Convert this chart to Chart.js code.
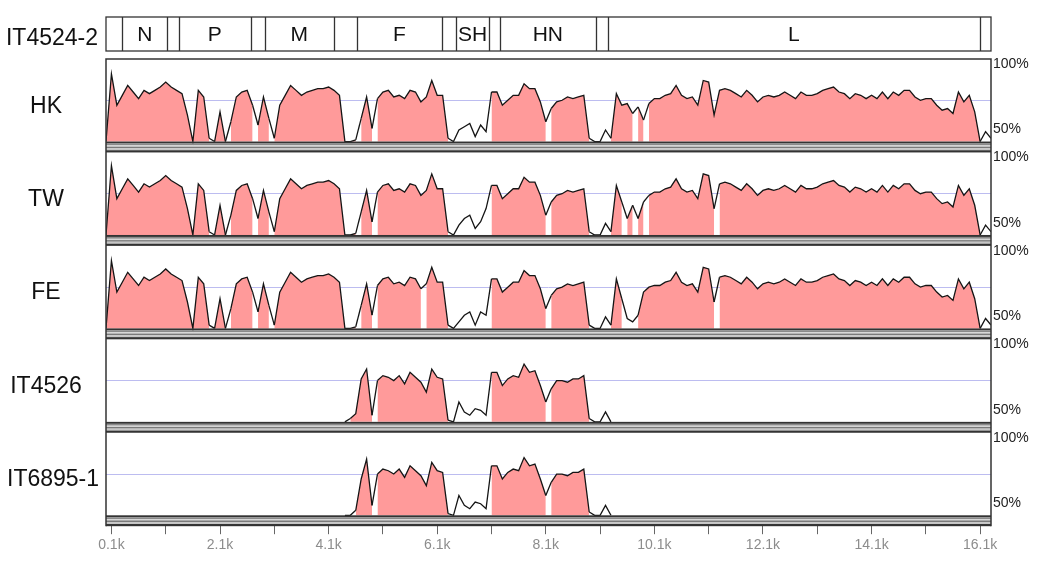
<!DOCTYPE html>
<html>
<head>
<meta charset="utf-8">
<script src="https://cdn.jsdelivr.net/npm/chart.js@4.4.1/dist/chart.umd.min.js"></script>
<style>
  body { margin: 0; background: #fff; }
  canvas { display: block; }
</style>
</head>
<body>
<canvas id="vistaChart" width="1050" height="569"></canvas>
<script>
// reference genome and compared strains
const referenceName = 'IT4524-2';
const trackNames = ['HK', 'TW', 'FE', 'IT4526', 'IT6895-1'];

// genes on the reference (bp)
const geneNames = ['N', 'P', 'M', 'F', 'SH', 'HN', 'L'];
const geneStarts = [300, 1340, 2925, 4630, 6445, 7255, 9240];
const geneEnds = [1130, 2665, 4195, 6180, 7055, 9020, 16100];

// x axis ticks
const tickPositions = [100, 1100, 2100, 3100, 4100, 5100, 6100, 7100, 8100, 9100, 10100, 11100, 12100, 13100, 14100, 15100, 16100];
const tickLabels = ['0.1k', '', '2.1k', '', '4.1k', '', '6.1k', '', '8.1k', '', '10.1k', '', '12.1k', '', '14.1k', '', '16.1k'];

// % identity, one value per 100 bp window
const windowStep = 100;
const hkStart = 0;
const hkValues = [
  50, 91, 72, 78, 84, 80, 76, 81, 79, 81, 83, 86, 83, 81, 79, 66, 50, 81, 77, 52,
  50, 68, 50, 62, 77, 80, 81, 72, 60, 77, 64, 52, 72, 78, 84, 81, 78, 80, 81, 82,
  82, 83, 81, 78, 50, 50, 51, 64, 77, 58, 76, 80, 81, 77, 78, 76, 81, 80, 74, 77,
  87, 78, 78, 52, 50, 57, 59, 61, 53, 60, 56, 80, 80, 72, 75, 78, 78, 85, 82, 82,
  74, 62, 70, 74, 75, 77, 76, 77, 78, 52, 50, 50, 57, 52, 79, 72, 73, 67, 71, 63,
  73, 76, 76, 78, 79, 84, 78, 76, 77, 72, 87, 86, 66, 81, 82, 81, 79, 77, 81, 78,
  74, 77, 78, 77, 78, 80, 78, 76, 80, 78, 78, 79, 81, 82, 83, 80, 79, 76, 79, 78,
  76, 78, 76, 80, 76, 80, 78, 81, 81, 77, 75, 76, 76, 72, 69, 70, 67, 80, 74, 78,
  68, 50, 56, 52
];
const twStart = 0;
const twValues = [
  50, 92, 72, 78, 84, 80, 76, 81, 79, 81, 83, 86, 83, 81, 79, 66, 50, 81, 77, 52,
  50, 68, 50, 62, 77, 80, 81, 72, 60, 77, 64, 52, 72, 78, 84, 81, 78, 80, 81, 82,
  82, 83, 81, 78, 50, 50, 51, 64, 77, 58, 76, 80, 81, 77, 78, 76, 81, 80, 74, 77,
  87, 78, 78, 52, 50, 56, 60, 62, 54, 58, 66, 80, 80, 72, 75, 78, 78, 85, 82, 82,
  74, 62, 70, 74, 75, 77, 76, 77, 78, 52, 50, 50, 57, 52, 80, 70, 60, 68, 60, 70,
  74, 76, 76, 78, 79, 84, 78, 76, 77, 72, 87, 86, 66, 81, 82, 81, 79, 77, 81, 78,
  74, 77, 78, 77, 78, 80, 78, 76, 80, 78, 78, 79, 81, 82, 83, 80, 79, 76, 79, 78,
  76, 78, 76, 80, 76, 80, 78, 81, 81, 77, 75, 76, 76, 72, 69, 70, 67, 80, 74, 78,
  68, 50, 56, 52
];
const feStart = 0;
const feValues = [
  50, 91, 72, 78, 84, 80, 76, 81, 79, 81, 83, 86, 83, 81, 79, 66, 50, 81, 77, 52,
  50, 68, 50, 62, 77, 80, 81, 72, 60, 77, 64, 52, 72, 78, 84, 81, 78, 80, 81, 82,
  82, 83, 81, 78, 50, 50, 51, 64, 77, 58, 76, 80, 81, 77, 78, 76, 81, 80, 74, 77,
  87, 78, 78, 52, 50, 54, 58, 60, 52, 60, 58, 80, 80, 72, 75, 78, 78, 85, 82, 82,
  74, 62, 70, 74, 75, 77, 76, 77, 78, 52, 50, 50, 57, 52, 80, 68, 56, 54, 58, 72,
  75, 76, 76, 78, 79, 84, 78, 76, 77, 72, 87, 86, 66, 81, 82, 81, 79, 77, 81, 78,
  74, 77, 78, 77, 78, 80, 78, 76, 80, 78, 78, 79, 81, 82, 83, 80, 79, 76, 79, 78,
  76, 78, 76, 80, 76, 80, 78, 81, 81, 77, 75, 76, 76, 72, 69, 70, 67, 80, 74, 78,
  68, 50, 56, 52
];
const it4526Start = 4400;
const it4526Values = [
  50, 52, 55, 76, 82, 54, 75, 78, 77, 75, 78, 73, 80, 77, 74, 68, 82, 77, 76, 51,
  50, 62, 56, 54, 58, 57, 54, 80, 80, 72, 76, 78, 77, 85, 80, 81, 72, 62, 70, 75,
  75, 74, 76, 76, 78, 52, 50, 50, 56, 50
];
const it6895Start = 4400;
const it6895Values = [
  50, 50, 53, 72, 84, 56, 75, 78, 77, 75, 78, 73, 80, 77, 74, 68, 82, 77, 76, 51,
  50, 62, 56, 54, 58, 57, 54, 80, 80, 72, 76, 78, 77, 85, 80, 81, 72, 62, 70, 75,
  75, 74, 76, 76, 78, 52, 50, 50, 56, 50
];

// windows left unshaded (not conserved), bp
const hkGaps = [[1900, 2000], [2200, 2300], [2700, 2800], [3000, 3100], [4600, 4700], [4900, 5000], [6300, 7100], [8100, 8200], [8900, 9300], [9700, 9800], [9900, 10000], [16100, 16300]];
const twGaps = [[1900, 2000], [2200, 2300], [2700, 2800], [3000, 3100], [4600, 4700], [4900, 5000], [6300, 7100], [8100, 8200], [8900, 9300], [9500, 9600], [9700, 9800], [9900, 10000], [11200, 11300], [16100, 16300]];
const feGaps = [[1900, 2000], [2200, 2300], [2700, 2800], [3000, 3100], [4600, 4700], [4900, 5000], [5800, 5900], [6300, 7100], [8100, 8200], [8900, 9300], [9500, 9800], [11200, 11300], [16100, 16300]];
const it4526Gaps = [[4400, 4500], [4900, 5000], [6300, 7100], [8100, 8200], [8900, 9400]];
const it6895Gaps = [[4400, 4600], [4900, 5000], [6300, 7100], [8100, 8200], [8900, 9400]];

const trackStarts = [hkStart, twStart, feStart, it4526Start, it6895Start];
const trackValues = [hkValues, twValues, feValues, it4526Values, it6895Values];
const trackGaps = [hkGaps, twGaps, feGaps, it4526Gaps, it6895Gaps];

const fontFamily = "'Liberation Sans', Arial, sans-serif";
const pink = '#ff9a9a';

function fillColour(gaps) {
  return ctx => {
    const mid = (ctx.p0.parsed.x + ctx.p1.parsed.x) / 2;
    return gaps.some(g => mid >= g[0] && mid < g[1]) ? 'rgba(255,255,255,0)' : pink;
  };
}

const datasets = trackNames.map((name, i) => ({
  label: name,
  yAxisID: 'y' + i,
  data: trackValues[i].map((v, j) => ({ x: trackStarts[i] + j * windowStep, y: v })),
  borderColor: '#151515',
  borderWidth: 1.3,
  backgroundColor: pink,
  fill: { value: 50 },
  pointRadius: 0,
  tension: 0,
  segment: { backgroundColor: fillColour(trackGaps[i]) }
}));

const scales = {
  x: {
    type: 'linear',
    position: 'bottom',
    min: 0,
    max: 16300,
    afterBuildTicks: s => { s.ticks = tickPositions.map(v => ({ value: v })); },
    ticks: {
      autoSkip: false,
      maxRotation: 0,
      padding: 3,
      color: '#8c8c8c',
      font: { family: fontFamily, size: 14 },
      callback: (v, i) => tickLabels[i]
    },
    grid: { drawOnChartArea: false, tickLength: 8, color: '#666' },
    border: { display: false }
  }
};
trackNames.forEach((name, i) => {
  scales['y' + i] = {
    type: 'linear',
    position: 'right',
    stack: 'tracks',
    stackWeight: 1,
    min: 43.4,
    max: 100,
    afterBuildTicks: s => { s.ticks = [{ value: 75 }]; },
    ticks: { display: false },
    grid: { color: '#bcbcf0', drawTicks: false },
    border: { display: false }
  };
});

const bandRows = [[0, 0.18, '#333333'], [0.18, 0.35, '#8a8a8a'], [0.35, 0.47, '#d6d6d6'], [0.47, 0.62, '#7a7a7a'], [0.62, 0.8, '#c6c6c6'], [0.8, 1, '#333333']];

const vistaDecor = {
  id: 'vistaDecor',
  afterDatasetsDraw(chart) {
    const { ctx, chartArea, scales } = chart;
    const xs = scales.x;
    const left = chartArea.left, right = chartArea.right;
    ctx.save();

    // bands under each track, labels
    trackNames.forEach((name, i) => {
      const ys = scales['y' + i];
      const base = ys.getPixelForValue(50);
      const h = ys.bottom - base;
      bandRows.forEach(r => {
        ctx.fillStyle = r[2];
        ctx.fillRect(left, base + r[0] * h, right - left, (r[1] - r[0]) * h);
      });
      ctx.fillStyle = '#111';
      ctx.font = '23px ' + fontFamily;
      ctx.textBaseline = 'middle';
      ctx.textAlign = 'left';
      const w = ctx.measureText(name).width;
      const cx = Math.max(46, 7 + w / 2);
      ctx.fillText(name, cx - w / 2, ys.getPixelForValue(75) + 6);
      ctx.font = '14px ' + fontFamily;
      ctx.fillStyle = '#222';
      ctx.fillText('100%', right + 2, ys.top + 5);
      ctx.fillText('50%', right + 2, base - 12);
    });

    // frame
    const top = scales.y0.top;
    const bottom = scales['y' + (trackNames.length - 1)].bottom;
    ctx.strokeStyle = '#333';
    ctx.lineWidth = 1.5;
    ctx.beginPath();
    ctx.moveTo(left, bottom);
    ctx.lineTo(left, top);
    ctx.lineTo(right, top);
    ctx.lineTo(right, bottom);
    ctx.stroke();

    // gene row
    const gTop = top - 42, gBottom = top - 8;
    ctx.lineWidth = 1.3;
    ctx.strokeRect(left, gTop, right - left, gBottom - gTop);
    ctx.beginPath();
    geneNames.forEach((g, i) => {
      [geneStarts[i], geneEnds[i]].forEach(b => {
        const px = Math.round(xs.getPixelForValue(b)) + 0.5;
        ctx.moveTo(px, gTop);
        ctx.lineTo(px, gBottom);
      });
    });
    ctx.stroke();
    ctx.fillStyle = '#111';
    ctx.font = '21px ' + fontFamily;
    ctx.textAlign = 'center';
    geneNames.forEach((g, i) => {
      const cx = (xs.getPixelForValue(geneStarts[i]) + xs.getPixelForValue(geneEnds[i])) / 2;
      ctx.fillText(g, cx, (gTop + gBottom) / 2 + 1);
    });
    ctx.font = '23px ' + fontFamily;
    ctx.fillText(referenceName, 52, gTop + 22);
    ctx.restore();
  }
};

const vistaChart = new Chart(document.getElementById('vistaChart').getContext('2d'), {
  type: 'line',
  data: { datasets: datasets },
  options: {
    responsive: false,
    animation: false,
    events: [],
    layout: { padding: { top: 59, left: 106, right: 59, bottom: 12 } },
    plugins: { legend: { display: false }, tooltip: { enabled: false } },
    scales: scales
  },
  plugins: [vistaDecor]
});
</script>
</body>
</html>
